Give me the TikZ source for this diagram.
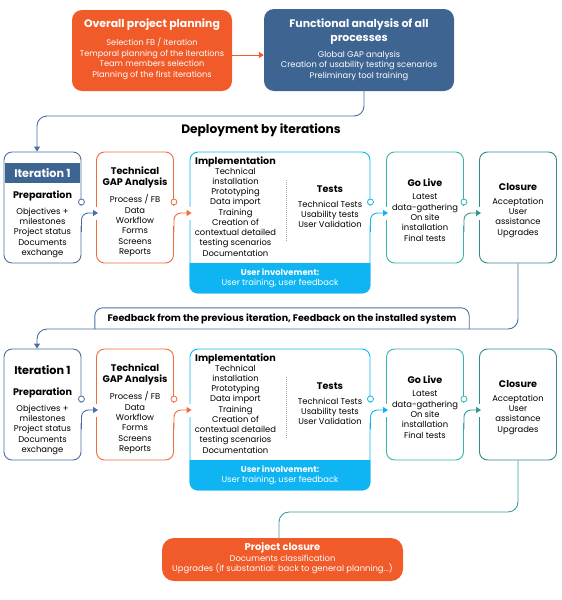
\documentclass[tikz,border=0pt]{standalone}
\usepackage{fontspec}
\setmainfont{Poppins}
\usetikzlibrary{arrows.meta,positioning}

\definecolor{planorange}{HTML}{F15A29}
\definecolor{funcblue}{HTML}{3E6591}
\definecolor{iterblue}{HTML}{4A6FA5}
\definecolor{gaporange}{HTML}{F26B3A}
\definecolor{implcyan}{HTML}{0FB5F2}
\definecolor{liveteal}{HTML}{36B5AA}
\definecolor{closeteal}{HTML}{2E8C8E}
\definecolor{linkteal}{HTML}{3A9DA0}

\begin{document}
\begin{tikzpicture}[x=1pt,y=-1pt,>={Triangle[length=5pt,width=6pt]},
	stagebox/.style={draw,rounded corners=8pt,line width=0.9pt,minimum width=77pt,minimum height=111pt,inner sep=0pt},
	topbox/.style={rounded corners=10pt,inner sep=0pt},
	txt/.style={align=center,inner sep=0pt,anchor=north,font=\fontsize{8.4}{10.4}\selectfont},
	ttl/.style={align=center,inner sep=0pt,font=\fontsize{9.6}{11.5}\selectfont\bfseries},
	port/.style={circle,draw,fill=white,line width=0.8pt,inner sep=0pt,minimum size=6pt},
	link/.style={->,line width=0.9pt,rounded corners=7pt},
	gapmask/.style={white,line width=2.5pt}
	]
	\useasboundingbox (0,0) rectangle (562,600);

	% planning boxes
	\node[topbox,fill=planorange,minimum width=160pt,minimum height=81pt] (plan) at (152,50.5) {};
	\node[topbox,fill=funcblue,minimum width=190pt,minimum height=82pt] (func) at (359,50) {};
	\node[ttl,text=white,font=\fontsize{10.9}{14}\selectfont\bfseries] (plant) at (152,25) {Overall project planning};
	\node[txt,text=white,font=\fontsize{8.2}{10.5}\selectfont] (planl) at (152,37.6) {Selection FB / iteration\\Temporal planning of the iterations\\Team members selection\\Planning of the first iterations};
	\node[ttl,text=white,font=\fontsize{10.9}{14}\selectfont\bfseries,anchor=north] (funct) at (359,18.5) {Functional analysis of all\\processes};
	\node[txt,text=white,font=\fontsize{8.3}{10.8}\selectfont] (funcl) at (359,50.6) {Global GAP analysis\\Creation of usability testing scenarios\\Preliminary tool training};
	\draw[->,planorange,line width=1pt] ([yshift=-4.5pt]plan.east) -- ([yshift=-4.5pt]plan.east -| func.west);

	\node[ttl,font=\fontsize{12.2}{14}\selectfont\bfseries] (deploy) at (261,130) {Deployment by iterations};

	% two iterations
	\foreach \r/\dy in {1/0,2/197}{
		\node[stagebox,draw=iterblue] (iter\r) at (42.5,207.5+\dy) {};
		\node[stagebox,draw=gaporange] (gap\r) at (135,207.5+\dy) {};
		\node[stagebox,draw=implcyan,minimum width=180pt,minimum height=141pt] (impl\r) at (280,222.5+\dy) {};
		\node[stagebox,draw=liveteal] (live\r) at (425,207.5+\dy) {};
		\node[stagebox,draw=closeteal] (close\r) at (518,207.5+\dy) {};

		% user involvement band
		\begin{scope}
			\clip (185,263+\dy) rectangle (375,300+\dy);
			\fill[implcyan,rounded corners=8pt] (189.6,240+\dy) rectangle (370.4,293.4+\dy);
		\end{scope}
		\node[txt,text=white] (user\r) at (280,268.6+\dy) {\textbf{User involvement:}\\User training, user feedback};

		% iteration
		\ifnum\r=1
			\fill[funcblue] (5,163) rectangle (80,183);
			\node[ttl,text=white,font=\fontsize{11.2}{13}\selectfont\bfseries] (itert\r) at (42.5,173) {Iteration 1};
		\else
			\node[ttl,font=\fontsize{11.2}{13}\selectfont\bfseries] (itert\r) at (42.5,370) {Iteration 1};
		\fi
		\node[ttl] (prep\r) at (42.5,196+\dy) {Preparation};
		\node[txt] (prepl\r) at (42.5,207.6+\dy) {Objectives +\\milestones\\Project status\\Documents\\exchange};

		% technical gap
		\node[ttl,anchor=north] (gapt\r) at (135,166.2+\dy) {Technical\\GAP Analysis};
		\node[txt] (gapl\r) at (135,194.6+\dy) {Process / FB\\Data\\Workflow\\Forms\\Screens\\Reports};

		% implementation and tests
		\node[ttl] (implt\r) at (235.5,162+\dy) {Implementation};
		\node[txt,font=\fontsize{8.4}{10.25}\selectfont] (impll\r) at (235.5,167.6+\dy) {Technical\\installation\\Prototyping\\Data import\\Training\\Creation of\\contextual detailed\\testing scenarios\\Documentation};
		\draw[gray!70,line width=0.5pt,dash pattern=on 1pt off 1pt] (286,180+\dy) -- (286,242+\dy);
		\node[ttl] (testt\r) at (330,189+\dy) {Tests};
		\node[txt] (testl\r) at (330,200.6+\dy) {Technical Tests\\Usability tests\\User Validation};

		% go live
		\node[ttl] (livet\r) at (425,183+\dy) {Go Live};
		\node[txt] (livel\r) at (425,193.6+\dy) {Latest\\data-gathering\\On site\\installation\\Final tests};

		% closure
		\node[ttl] (closet\r) at (518,187+\dy) {Closure};
		\node[txt] (closel\r) at (518,197.6+\dy) {Acceptation\\User\\assistance\\Upgrades};

		% hand-overs
		\draw[gapmask] ([yshift=2pt]iter\r.east) -- ([yshift=-18pt]iter\r.east);
		\draw[gapmask] ([yshift=2pt]gap\r.east) -- ([yshift=-18pt]gap\r.east);
		\draw[gapmask] ([yshift=17pt]impl\r.east) -- ([yshift=-3pt]impl\r.east);
		\draw[gapmask] ([yshift=2pt]live\r.east) -- ([yshift=-18pt]live\r.east);
		\draw[gapmask] ([yshift=1pt]gap\r.west) -- ([yshift=-12pt]gap\r.west);
		\draw[gapmask] ([yshift=16pt]impl\r.west) -- ([yshift=3pt]impl\r.west);
		\draw[gapmask] ([yshift=1pt]live\r.west) -- ([yshift=-12pt]live\r.west);
		\draw[gapmask] ([yshift=1pt]close\r.west) -- ([yshift=-12pt]close\r.west);

		\draw[link,iterblue] ([yshift=-24.5pt]iter\r.east) |- ([xshift=2pt,yshift=-5.5pt]gap\r.west);
		\draw[link,gaporange] ([yshift=-24.5pt]gap\r.east) |- ([xshift=2pt,yshift=9.5pt]impl\r.west);
		\draw[link,implcyan] ([yshift=-9.5pt]impl\r.east) |- ([xshift=2pt,yshift=-5.5pt]live\r.west);
		\draw[link,liveteal!85!black] ([yshift=-24.5pt]live\r.east) |- ([xshift=2pt,yshift=-5.5pt]close\r.west);

		\node[port,draw=iterblue] (iterp\r) at ([yshift=5.5pt]iter\r.east) {};
		\node[port,draw=gaporange] (gapp\r) at ([yshift=5.5pt]gap\r.east) {};
		\node[port,draw=implcyan] (implp\r) at ([yshift=20.5pt]impl\r.east) {};
		\node[port,draw=liveteal] (livep\r) at ([yshift=5.5pt]live\r.east) {};
	}

	% connectors between phases
	\coordinate (turn1) at (37,116);
	\draw[link,iterblue,rounded corners=10pt] ([xshift=5pt]func.south) |- (turn1) -- ([xshift=-5.5pt]iter1.north);

	\node[inner sep=0pt,minimum width=374pt,minimum height=21pt,font=\fontsize{9.5}{11}\selectfont\bfseries] (feedback) at (282,318.5) {Feedback from the previous iteration, Feedback on the installed system};
	\draw[iterblue,line width=0.9pt,rounded corners=8pt] (feedback.south west) |- (feedback.north) -| (feedback.south east);
	\coordinate (turn2) at (37,329);
	\draw[link,iterblue,rounded corners=10pt] (close1.south) |- (turn2) -- ([xshift=-5.5pt]iter2.north);

	% project closure
	\node[topbox,fill=planorange,rounded corners=12pt,minimum width=241pt,minimum height=43pt] (pclose) at (282.5,559.5) {};
	\node[ttl,text=white,font=\fontsize{9.9}{12}\selectfont\bfseries] (pcloset) at (282.5,548) {Project closure};
	\node[txt,text=white,font=\fontsize{8.4}{10.3}\selectfont] (pclosel) at (282.5,554.6) {Documents classification\\Upgrades (if substantial: back to general planning...)};
	\coordinate (turn3) at (279,512);
	\draw[linkteal,line width=0.9pt,rounded corners=10pt] (close2.south) |- (turn3) -- (turn3 |- pclose.north);

\end{tikzpicture}
\end{document}
